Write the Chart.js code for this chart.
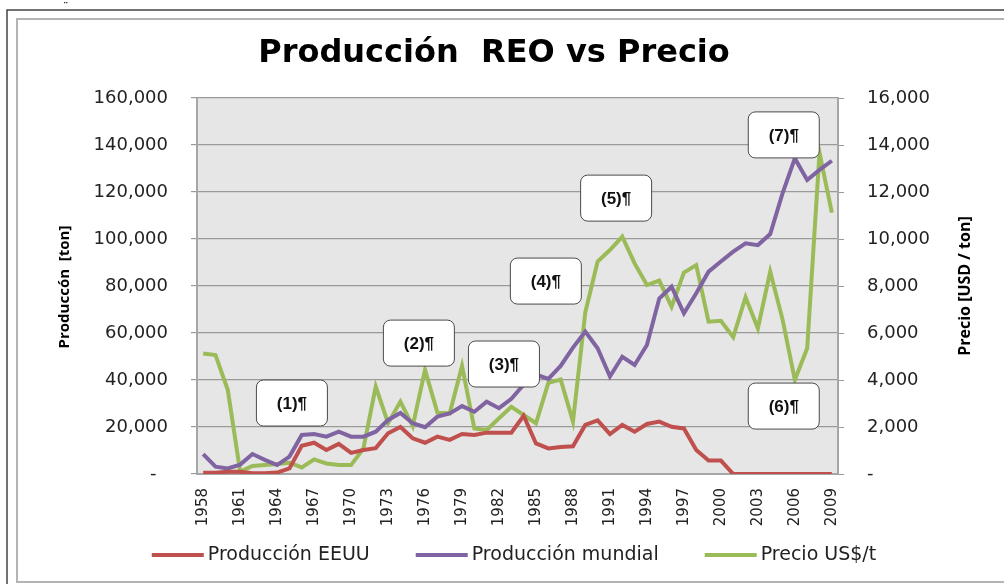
<!DOCTYPE html>
<html>
<head>
<meta charset="utf-8">
<script src="https://cdn.jsdelivr.net/npm/chart.js@4.4.1/dist/chart.umd.min.js"></script>
<style>
  html, body { margin: 0; padding: 0; background: #fff; }
</style>
</head>
<body>
<canvas id="myChart" width="1004" height="584"></canvas>
<script>
// years on the category axis
const years = [
  "1958","1959","1960","1961","1962","1963","1964","1965","1966","1967",
  "1968","1969","1970","1971","1972","1973","1974","1975","1976","1977",
  "1978","1979","1980","1981","1982","1983","1984","1985","1986","1987",
  "1988","1989","1990","1991","1992","1993","1994","1995","1996","1997",
  "1998","1999","2000","2001","2002","2003","2004","2005","2006","2007",
  "2008","2009"
];

// production, tons (left axis)
const prodUSA = [
  500, 500, 1000, 1000, 300, 300, 600, 2400, 12000, 13300,
  10200, 12800, 9000, 10200, 11000, 17300, 20000, 15200, 13300, 15900,
  14500, 17000, 16600, 17600, 17600, 17600, 24800, 13000, 10900, 11500,
  11800, 20900, 22800, 17000, 20900, 18000, 21300, 22300, 20100, 19400,
  10200, 5700, 5700, 0, 0, 0, 0, 0, 0, 0,
  0, 0
];

const prodWorld = [
  8500, 3100, 2400, 4000, 8500, 6000, 3800, 7400, 16600, 17000,
  15900, 18000, 15900, 15900, 18000, 23000, 26000, 21600, 19900, 24400,
  25800, 28900, 26500, 30800, 28000, 32000, 38000, 42300, 40500, 46000,
  53800, 60600, 53500, 41500, 49900, 46400, 54900, 74700, 79700, 68400,
  76900, 86100, 90400, 94600, 98200, 97400, 102100, 119400, 134300, 125100,
  129400, 133300
];

// price, USD per ton (right axis)
const price = [
  5130, 5060, 3570, 100, 340, 380, 430, 480, 280, 620,
  450, 380, 380, 1090, 3720, 2160, 3080, 2040, 4430, 2610,
  2580, 4600, 1940, 1870, 2370, 2860, 2510, 2160, 3880, 4020,
  2230, 6880, 9040, 9530, 10100, 8960, 8040, 8230, 7120, 8570,
  8890, 6480, 6520, 5820, 7520, 6200, 8610, 6580, 4000, 5350,
  13670, 11120
];

// callout labels placed in data space (year, left-axis value)
const calloutText = ["(1)¶", "(2)¶", "(3)¶", "(4)¶", "(5)¶", "(6)¶", "(7)¶"];
const calloutYear = [1965.2, 1975.5, 1982.4, 1985.8, 1991.5, 2005.1, 2005.1];
const calloutValue = [30200, 55700, 46800, 82100, 117400, 28900, 144300];

const fmt = v => v === 0 ? "-\u2007" : v.toLocaleString("en-US");

// frame, plot background, titles, callouts and legend
const decor = {
  id: "decor",
  beforeDraw(chart) {
    const { ctx, chartArea: a } = chart;
    ctx.save();
    ctx.fillStyle = "#fff";
    ctx.fillRect(0, 0, chart.width, chart.height);
    ctx.strokeStyle = "#444";
    ctx.lineWidth = 1.5;
    ctx.strokeRect(7, 10, 1010, 600);
    ctx.strokeStyle = "#b4b4b4";
    ctx.lineWidth = 2;
    ctx.strokeRect(17, 19, 1000, 563);
    ctx.fillStyle = "#000";
    ctx.font = "11px DejaVu Sans";
    ctx.fillText("¨", 63, 10);
    ctx.fillStyle = "#e6e6e6";
    ctx.fillRect(a.left, a.top, a.right - a.left, a.bottom - a.top);
    ctx.restore();
  },
  afterDraw(chart) {
    const { ctx } = chart;
    ctx.save();
    ctx.fillStyle = "#000";
    ctx.textAlign = "center";
    ctx.textBaseline = "middle";
    ctx.font = "bold 32px 'DejaVu Sans'";
    ctx.fillText("Producción  REO vs Precio", 494, 54);

    ctx.font = "bold 15px 'Open Sans'";
    ctx.translate(65, 287);
    ctx.rotate(-Math.PI / 2);
    ctx.fillText("Produccón  [ton]", 0, 0);
    ctx.restore();

    ctx.save();
    ctx.fillStyle = "#000";
    ctx.textAlign = "center";
    ctx.textBaseline = "middle";
    ctx.font = "bold 16px 'Open Sans'";
    ctx.translate(965, 286);
    ctx.rotate(-Math.PI / 2);
    ctx.fillText("Precio [USD / ton]", 0, 0);
    ctx.restore();

    // callout boxes
    const xs = chart.scales.x, ys = chart.scales.y;
    ctx.save();
    calloutText.forEach((t, i) => {
      const cx = xs.getPixelForValue(calloutYear[i] - 1958);
      const cy = ys.getPixelForValue(calloutValue[i]);
      const w = 71, h = 46;
      ctx.beginPath();
      ctx.roundRect(cx - w / 2, cy - h / 2, w, h, 7);
      ctx.fillStyle = "#fff";
      ctx.fill();
      ctx.strokeStyle = "#4a4a4a";
      ctx.lineWidth = 1;
      ctx.stroke();
      ctx.fillStyle = "#111";
      ctx.font = "bold 17px 'Liberation Sans'";
      ctx.textAlign = "center";
      ctx.textBaseline = "middle";
      ctx.fillText(t, cx, cy + 1);
    });
    ctx.restore();

    // legend under the axis
    ctx.save();
    ctx.font = "19px 'DejaVu Sans'";
    ctx.textBaseline = "middle";
    const items = chart.data.datasets.map(d => ({
      text: d.label, color: d.borderColor, w: ctx.measureText(d.label).width
    }));
    const lineW = 52, gapText = 4, gapItem = 46;
    const total = items.reduce((s, it) => s + lineW + gapText + it.w, 0) + gapItem * (items.length - 1);
    let x = 514 - total / 2;
    const y = 555;
    items.forEach(it => {
      ctx.strokeStyle = it.color;
      ctx.lineWidth = 4;
      ctx.beginPath();
      ctx.moveTo(x, y);
      ctx.lineTo(x + lineW, y);
      ctx.stroke();
      ctx.fillStyle = "#222";
      ctx.fillText(it.text, x + lineW + gapText, y);
      x += lineW + gapText + it.w + gapItem;
    });
    ctx.restore();
  }
};

const tickFont = { family: "DejaVu Sans", size: 18 };

const ctx = document.getElementById("myChart").getContext("2d");
const myChart = new Chart(ctx, {
  type: "line",
  data: {
    labels: years,
    datasets: [
      {
        label: "Producción EEUU",
        data: prodUSA,
        borderColor: "#c0504d",
        backgroundColor: "#c0504d",
        borderWidth: 4,
        pointRadius: 0,
        tension: 0,
        yAxisID: "y"
      },
      {
        label: "Producción mundial",
        data: prodWorld,
        borderColor: "#8064a2",
        backgroundColor: "#8064a2",
        borderWidth: 4,
        pointRadius: 0,
        tension: 0,
        yAxisID: "y"
      },
      {
        label: "Precio US$/t",
        data: price,
        borderColor: "#9bbb59",
        backgroundColor: "#9bbb59",
        borderWidth: 4,
        pointRadius: 0,
        tension: 0,
        yAxisID: "y2"
      }
    ]
  },
  options: {
    responsive: false,
    animation: false,
    devicePixelRatio: 1,
    layout: { padding: { top: 98, left: 24, right: 0, bottom: 54 } },
    plugins: {
      title: { display: false },
      tooltip: { enabled: false },
      legend: { display: false }
    },
    scales: {
      x: {
        offset: true,
        grid: { display: true, drawOnChartArea: false, drawTicks: false },
        border: { display: true, color: "#a6a6a6", width: 2 },
        ticks: {
          autoSkip: false,
          minRotation: 90,
          maxRotation: 90,
          padding: 14,
          color: "#222",
          font: { family: "DejaVu Sans", size: 15 },
          callback: (v, i) => i % 3 === 0 ? years[i] : ""
        },
        afterFit: s => { s.height = 56; }
      },
      y: {
        position: "left",
        min: 0,
        max: 160000,
        grid: { color: "#9a9a9a", lineWidth: 1.2, tickLength: 6, tickColor: "#9a9a9a" },
        border: { display: true, color: "#a6a6a6", width: 2 },
        ticks: { stepSize: 20000, padding: 23, color: "#222", font: tickFont, callback: fmt },
        afterFit: s => { s.width = 173; }
      },
      y2: {
        position: "right",
        min: 0,
        max: 16000,
        grid: { drawOnChartArea: false, tickLength: 6, tickColor: "#9a9a9a" },
        border: { display: true, color: "#a6a6a6", width: 2 },
        ticks: { stepSize: 2000, padding: 23, color: "#222", font: tickFont,
          callback: v => v === 0 ? "-" : v.toLocaleString("en-US") },
        afterFit: s => { s.width = 166; }
      }
    }
  },
  plugins: [decor]
});
</script>
</body>
</html>
